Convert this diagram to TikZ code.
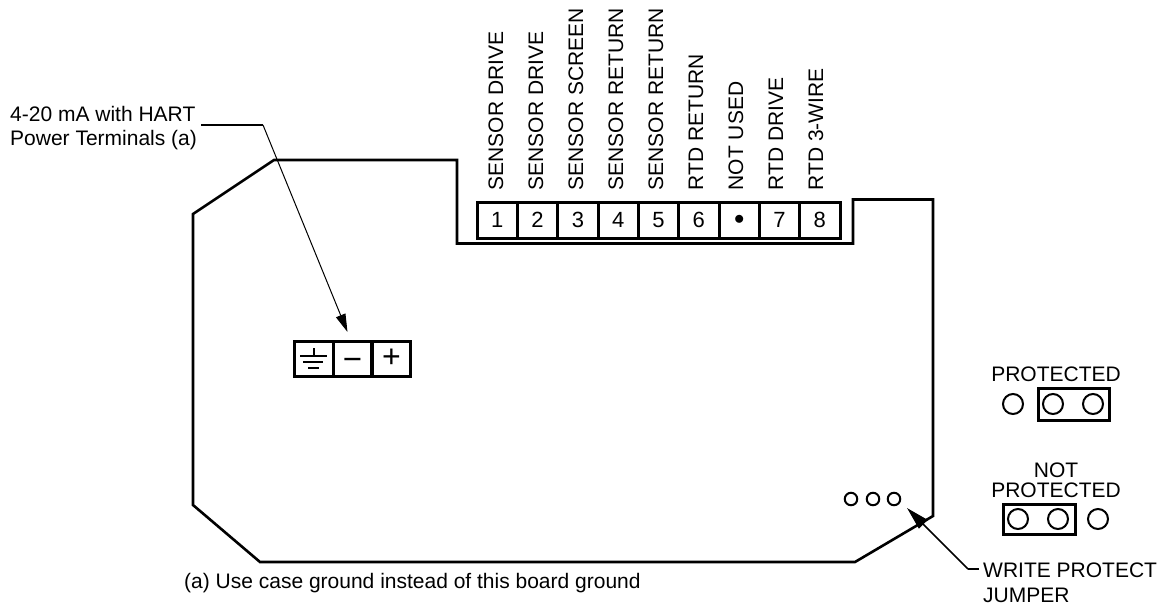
\documentclass[tikz,border=0pt]{standalone}
\usepackage{fontspec}
\setmainfont{Liberation Sans}
\usetikzlibrary{arrows.meta}
\tikzset{
  board/.style={line width=2.6pt,line join=miter},
  cellbox/.style={draw,line width=3pt,minimum width=40.33pt,minimum height=36pt,inner sep=0pt,font=\fontsize{22}{22}\selectfont},
  pcell/.style={draw,line width=3pt,minimum width=38.7pt,minimum height=35pt,inner sep=0pt,font=\fontsize{32}{32}\selectfont},
  signlabel/.style={inner sep=0pt,font=\fontsize{33}{33}\selectfont},
  vlabel/.style={rotate=90,anchor=base west,inner sep=0pt,font=\fontsize{21}{21}\selectfont},
  txt/.style={anchor=base west,inner sep=0pt,font=\fontsize{21}{21}\selectfont},
  ctxt/.style={anchor=base,inner sep=0pt,font=\fontsize{21}{21}\selectfont},
  hole/.style={draw,circle,line width=2pt,minimum size=20pt,inner sep=0pt},
  smallhole/.style={draw,circle,line width=2pt,minimum size=12.5pt,inner sep=0pt},
  lead/.style={line width=1.8pt},
  thinlead/.style={line width=1pt,-{Triangle[length=18pt,width=10pt]}},
  wplead/.style={line width=1.6pt,-{Triangle[length=23pt,width=12pt]}}
}
\begin{document}
\begin{tikzpicture}[x=1pt,y=-1pt]
\useasboundingbox (0,0) rectangle (1159,606);
% board outline
\draw[board] (274,160) -- (457,160) -- (457,243.5) -- (853,243.5) -- (853,199.5) -- (933,199.5) -- (933,516) -- (855,562) -- (260,562) -- (193,505) -- (193,214) -- cycle;
% sensor terminals
\foreach \n/\t [count=\i from 0] in {a/1,b/2,c/3,d/4,e/5,f/6,g/{$\bullet$},h/7,i/8}{
  \node[cellbox] (t\n) at ({497.2+40.33*\i},220) {\t};
}
% vertical labels
\foreach \n/\t [count=\i from 0] in {a/SENSOR DRIVE,b/SENSOR DRIVE,c/SENSOR SCREEN,d/SENSOR RETURN,e/SENSOR RETURN,f/RTD RETURN,g/NOT USED,h/RTD DRIVE,i/RTD 3-WIRE}{
  \node[vlabel] (v\n) at ({503+40*\i},190.5) {\t};
}
% power terminals
\node[pcell] (pg) at (314,358.5) {};
\node[pcell] (pm) at (352.5,358.5) {};
\node[pcell] (pp) at (391.5,358.5) {+};
\node[signlabel] (pmsign) at (352.5,364) {−};
\draw[line width=2pt] (314,348) -- (314,356) (300,356) -- (327,356);
\draw[line width=2pt] (303,362) -- (323,362);
\draw[line width=2pt] (308,367.5) -- (319,367.5);
% texts
\node[txt] (hart1) at (10,121) {4-20 mA with HART};
\node[txt] (hart2) at (10,145) {Power Terminals (a)};
\node[txt] (note) at (184,588) {(a) Use case ground instead of this board ground};
\node[txt] (wp1) at (983,577) {WRITE PROTECT};
\node[txt] (wp2) at (983,602) {JUMPER};
\node[ctxt] (prot) at (1056,381) {PROTECTED};
\node[ctxt] (not) at (1056,477) {NOT};
\node[ctxt] (nprot) at (1056,497) {PROTECTED};
% jumpers
\node[hole] (p1) at (1013,404) {};
\node[hole] (p2) at (1053,404) {};
\node[hole] (p3) at (1093,404) {};
\draw[line width=3pt] (1038,388) rectangle (1109,420);
\node[hole] (n1) at (1018,519) {};
\node[hole] (n2) at (1058,519) {};
\node[hole] (n3) at (1098,519) {};
\draw[line width=3pt] (1003,504) rectangle (1075,534);
\node[smallhole] (s1) at (851,499) {};
\node[smallhole] (s2) at (873,499) {};
\node[smallhole] (s3) at (894,499) {};
% leaders
\coordinate (hartstart) at (201,125);
\coordinate (hartbend) at (263,125);
\coordinate (harttip) at (347.5,332);
\draw[lead] (hartstart) -- (hartbend);
\draw[thinlead] (hartbend) -- (harttip);
\coordinate (wpstart) at (979,569);
\coordinate (wpbend) at (968,569);
\coordinate (wptip) at (907,508);
\draw[lead] (wpstart) -- (wpbend);
\draw[wplead] (wpbend) -- (wptip);
\end{tikzpicture}
\end{document}
